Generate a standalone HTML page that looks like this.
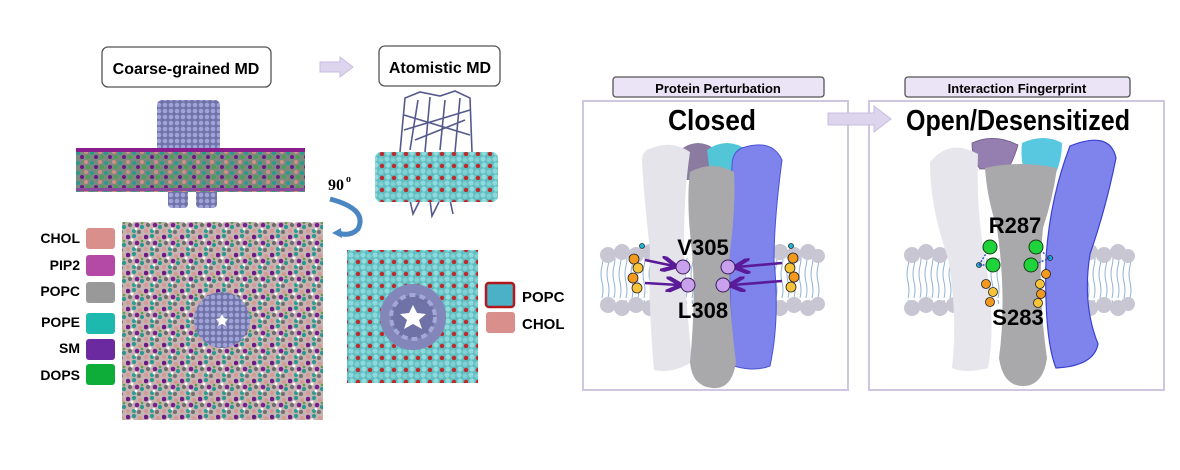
<!DOCTYPE html>
<html><head><meta charset="utf-8"><style>
html,body{margin:0;padding:0;background:#fff;}
svg{display:block;font-family:"Liberation Sans",Arial,sans-serif;}
</style></head><body>
<svg width="1180" height="470" viewBox="0 0 1180 470" xmlns="http://www.w3.org/2000/svg">
<defs>
<pattern id="cg" width="18" height="18" patternUnits="userSpaceOnUse">
<rect width="18" height="18" fill="#c7b3b1"/>
<circle cx="2" cy="3" r="2.3" fill="#6a1a85"/><circle cx="8" cy="2" r="2.1" fill="#2a9990"/>
<circle cx="14" cy="4" r="2" fill="#d59a94"/><circle cx="4" cy="9" r="2.1" fill="#6d6d6d"/>
<circle cx="11" cy="9" r="2.3" fill="#7a1f8f"/><circle cx="16" cy="11" r="2.1" fill="#2a9990"/>
<circle cx="2" cy="15" r="2" fill="#d59a94"/><circle cx="8" cy="15" r="2.1" fill="#2d9e8f"/>
<circle cx="13" cy="16" r="2" fill="#707070"/><circle cx="6" cy="6" r="1.5" fill="#fff"/>
<circle cx="16" cy="7" r="1.3" fill="#58a04a"/><circle cx="10" cy="13" r="1.4" fill="#fff"/>
</pattern>
<pattern id="cgs" width="14" height="10" patternUnits="userSpaceOnUse">
<rect width="14" height="10" fill="#7c8a7e"/>
<circle cx="2" cy="2" r="2" fill="#d18f88"/><circle cx="8" cy="3" r="2" fill="#2a9990"/>
<circle cx="12" cy="7" r="2" fill="#6a1a85"/><circle cx="4" cy="7" r="2" fill="#4c9c5a"/>
</pattern>
<pattern id="at" width="12" height="12" patternUnits="userSpaceOnUse">
<rect width="12" height="12" fill="#5fbcbf"/>
<circle cx="3" cy="3" r="2.6" fill="#8ed9db"/><circle cx="9" cy="4" r="2.6" fill="#7fd0d3"/>
<circle cx="4" cy="9" r="2.6" fill="#92dcde"/><circle cx="10" cy="10" r="2.2" fill="#c0282a"/>
</pattern>
<pattern id="prot" width="6" height="6" patternUnits="userSpaceOnUse">
<rect width="6" height="6" fill="#6f73a8"/><circle cx="3" cy="3" r="2.3" fill="#9fa3d8"/>
</pattern>
<pattern id="tails" width="6" height="50" patternUnits="userSpaceOnUse">
<path d="M2 0 q2 8 0 16 q-2 8 0 16 q2 8 0 16" stroke="#8fb2d6" stroke-width="1" fill="none"/>
</pattern>
<marker id="ah" markerWidth="6" markerHeight="6" refX="5" refY="3" orient="auto"><path d="M0 0 L6 3 L0 6" fill="none" stroke="#5a1a9a" stroke-width="1.6"/></marker>
</defs>

<!-- LEFT -->
<rect x="102" y="47" width="169" height="40" rx="6" fill="#fff" stroke="#555" stroke-width="1.3"/>
<text x="186" y="74" font-size="16" font-weight="bold" text-anchor="middle">Coarse-grained MD</text>
<path d="M320 62 h20 v-5 l13 10 l-13 10 v-5 h-20z" fill="#ddd4ee" stroke="#c8bde0"/>
<rect x="379" y="46" width="121" height="40" rx="6" fill="#fff" stroke="#555" stroke-width="1.3"/>
<text x="440" y="73" font-size="16" font-weight="bold" text-anchor="middle">Atomistic MD</text>

<!-- CG side -->
<rect x="157" y="100" width="63" height="52" rx="5" fill="url(#prot)"/>
<rect x="168" y="185" width="20" height="23" rx="4" fill="url(#prot)"/>
<rect x="196" y="185" width="21" height="23" rx="4" fill="url(#prot)"/>
<rect x="76" y="148" width="229" height="44" fill="url(#cgs)"/>
<rect x="76" y="148" width="229" height="4" fill="#8a1d8c"/>
<rect x="76" y="188" width="229" height="3" fill="#8a4c9c"/>

<!-- AT side -->
<g stroke="#555a8c" stroke-width="1.6" fill="none">
<path d="M400 152 L405 98 L420 92 L440 96 L455 91 L470 98 L472 152"/>
<path d="M410 150 L418 100 M425 152 L430 97 M440 150 L445 100 M455 152 L460 98 M404 130 L470 110 M404 115 L470 135 M415 140 L465 120"/>
<path d="M410 200 l3 14 l6 -12 M430 200 l2 16 l7 -14 M450 200 l3 14"/>
</g>
<rect x="375" y="152" width="123" height="50" rx="6" fill="url(#at)"/>

<text x="328" y="190" font-family="Liberation Serif,serif" font-size="16" font-weight="bold">90</text>
<text x="346" y="182" font-family="Liberation Serif,serif" font-size="10" font-weight="bold">o</text>
<path d="M330 199 q38 10 28 30 q-8 8 -20 4" fill="none" stroke="#4a86c2" stroke-width="5"/>
<path d="M341 228 l-9 5 l10 5z" fill="#4a86c2"/>

<!-- legend CG -->
<g font-size="14" font-weight="bold" text-anchor="end">
<text x="80" y="243">CHOL</text><text x="80" y="270">PIP2</text><text x="80" y="296">POPC</text>
<text x="80" y="327">POPE</text><text x="80" y="353">SM</text><text x="80" y="380">DOPS</text>
</g>
<rect x="86" y="228" width="29" height="21" rx="3" fill="#d9908c"/>
<rect x="86" y="255" width="29" height="21" rx="3" fill="#b44aa5"/>
<rect x="86" y="282" width="29" height="21" rx="3" fill="#999"/>
<rect x="86" y="313" width="29" height="21" rx="3" fill="#1db9af"/>
<rect x="86" y="339" width="29" height="21" rx="3" fill="#6c2aa0"/>
<rect x="86" y="364" width="29" height="21" rx="3" fill="#0ead3a"/>

<rect x="122" y="222" width="201" height="198" fill="url(#cg)"/>
<circle cx="222" cy="320" r="28" fill="url(#prot)"/>
<path d="M222 314 l2 4 l4 1 l-3 3 l1 4 l-4 -2 l-4 2 l1 -4 l-3 -3 l4 -1z" fill="#fff"/>

<!-- AT top -->
<rect x="347" y="250" width="131" height="133" fill="url(#at)"/>
<circle cx="413" cy="317" r="33" fill="#8286b8"/>
<circle cx="413" cy="317" r="22" fill="#6e72a6" stroke="#a4a8d8" stroke-width="4" stroke-dasharray="6 4"/>
<path d="M413 305 l4 8 l9 1 l-7 6 l3 9 l-9 -5 l-9 5 l3 -9 l-7 -6 l9 -1z" fill="#fff"/>
<rect x="486" y="283" width="28" height="24" rx="3" fill="#4ab1c7" stroke="#b0181c" stroke-width="2.5"/>
<rect x="486" y="312" width="29" height="21" rx="3" fill="#d9908c"/>
<text x="522" y="302" font-size="15" font-weight="bold">POPC</text>
<text x="522" y="329" font-size="15" font-weight="bold">CHOL</text>

<!-- RIGHT PANEL 1 -->
<rect x="613" y="77" width="211" height="20" rx="3" fill="#ebe3f6" stroke="#555" stroke-width="1.3"/>
<text x="718" y="93" font-size="13" font-weight="bold" text-anchor="middle">Protein Perturbation</text>
<rect x="583" y="101" width="265" height="289" fill="#fff" stroke="#cfc6e2" stroke-width="2"/>
<text x="712" y="130" font-size="29" font-weight="bold" text-anchor="middle" textLength="88" lengthAdjust="spacingAndGlyphs">Closed</text>

<!-- membrane closed -->
<rect x="600" y="258" width="222" height="46" fill="url(#tails)"/>
<g fill="#c8c6d3">
<circle cx="608" cy="255" r="8"/><circle cx="622" cy="252" r="8"/><circle cx="636" cy="255" r="8"/><circle cx="650" cy="252" r="8"/>
<circle cx="780" cy="252" r="8"/><circle cx="794" cy="255" r="8"/><circle cx="808" cy="252" r="8"/><circle cx="818" cy="256" r="7"/>
<circle cx="608" cy="305" r="8"/><circle cx="622" cy="308" r="8"/><circle cx="636" cy="305" r="8"/><circle cx="650" cy="308" r="8"/>
<circle cx="780" cy="308" r="8"/><circle cx="794" cy="305" r="8"/><circle cx="808" cy="308" r="8"/><circle cx="818" cy="304" r="7"/>
</g>
<path d="M680 150 q18 -14 36 0 l-2 30 h-32z" fill="#8b7ba0"/>
<path d="M707 150 q20 -14 40 0 l-4 30 h-32z" fill="#52c6d6"/>
<path d="M652 148 q20 -8 38 4 q-6 40 -6 90 q0 40 8 120 q-20 12 -38 8 q-6 -70 -4 -120 q-6 -50 -8 -90 q0 -10 10 -12z" fill="#e4e4ea"/>
<path d="M742 148 q30 -10 40 12 q-8 60 -8 100 q6 60 -4 106 q-16 6 -36 0 q-8 -100 -2 -200 q0 -14 10 -18z" fill="#7e84ec" stroke="#4a52d6" stroke-width="1"/>
<path d="M690 172 q22 -12 44 0 q2 30 -4 80 q-2 50 6 110 q-4 28 -24 26 q-20 -2 -22 -26 q6 -60 2 -110 q-6 -50 -2 -80z" fill="#a9a9ab"/>
<text x="703" y="255" font-size="22" font-weight="bold" text-anchor="middle">V305</text>
<text x="703" y="318" font-size="22" font-weight="bold" text-anchor="middle">L308</text>
<g stroke="#5a1a9a" stroke-width="2.6" marker-end="url(#ah)">
<line x1="645" y1="260" x2="674" y2="266"/><line x1="645" y1="283" x2="679" y2="285"/>
<line x1="782" y1="263" x2="737" y2="267"/><line x1="782" y1="281" x2="732" y2="285"/>
</g>
<g fill="#c9a0ec" stroke="#3a1a5a" stroke-width="1">
<circle cx="683" cy="267" r="7"/><circle cx="728" cy="267" r="7"/><circle cx="688" cy="285" r="7"/><circle cx="723" cy="285" r="7"/>
</g>
<g stroke="#222" stroke-width="0.8">
<circle cx="642" cy="246" r="2.5" fill="#19b8d8"/>
<circle cx="634" cy="259" r="5" fill="#f39a1e"/><circle cx="638" cy="268" r="5" fill="#f7c33a"/><circle cx="633" cy="278" r="5" fill="#f39a1e"/><circle cx="637" cy="288" r="5" fill="#f7c33a"/>
<circle cx="791" cy="246" r="2.5" fill="#19b8d8"/>
<circle cx="793" cy="258" r="5" fill="#f39a1e"/><circle cx="790" cy="268" r="5" fill="#f7c33a"/><circle cx="794" cy="277" r="5" fill="#f39a1e"/><circle cx="791" cy="287" r="5" fill="#f7c33a"/>
</g>

<!-- RIGHT PANEL 2 -->
<rect x="905" y="77" width="225" height="20" rx="3" fill="#ebe3f6" stroke="#555" stroke-width="1.3"/>
<text x="1017" y="93" font-size="13" font-weight="bold" text-anchor="middle">Interaction Fingerprint</text>
<rect x="869" y="101" width="295" height="289" fill="#fff" stroke="#cfc6e2" stroke-width="2"/>
<text x="1018" y="130" font-size="29" font-weight="bold" text-anchor="middle" textLength="224" lengthAdjust="spacingAndGlyphs">Open/Desensitized</text>

<path d="M828 113 h46 v-7 l17 13 l-17 13 v-7 h-46z" fill="#ddd4ee" stroke="#c8bde0"/>

<rect x="905" y="258" width="228" height="46" fill="url(#tails)"/>
<g fill="#c8c6d3">
<circle cx="912" cy="255" r="8"/><circle cx="926" cy="252" r="8"/><circle cx="940" cy="255" r="8"/><circle cx="954" cy="252" r="8"/>
<circle cx="1090" cy="252" r="8"/><circle cx="1104" cy="255" r="8"/><circle cx="1118" cy="252" r="8"/><circle cx="1128" cy="256" r="7"/>
<circle cx="912" cy="308" r="8"/><circle cx="926" cy="305" r="8"/><circle cx="940" cy="308" r="8"/><circle cx="954" cy="305" r="8"/>
<circle cx="1090" cy="308" r="8"/><circle cx="1104" cy="305" r="8"/><circle cx="1118" cy="308" r="8"/><circle cx="1128" cy="304" r="7"/>
</g>
<path d="M972 143 q22 -10 46 2 q-4 14 -10 24 h-28 q-8 -10 -8 -26z" fill="#957eb0" stroke="#6b5a88" stroke-width="0.8"/>
<path d="M1022 143 q22 -10 40 0 q0 16 -6 30 h-30 q-6 -10 -4 -30z" fill="#58c8e0"/>
<path d="M930 162 q20 -24 48 -8 q-2 60 8 110 q10 60 2 104 q-22 6 -36 0 q6 -50 -4 -110 q-18 -50 -18 -96z" fill="#e6e6ec"/>
<path d="M1070 146 q40 -16 46 12 q-10 50 -26 96 q-8 50 8 90 q-4 22 -42 24 q-12 -30 -10 -110 q4 -60 24 -112z" fill="#7e84ec" stroke="#3a42d0" stroke-width="1.2"/>
<path d="M985 168 q36 -8 72 0 q-4 30 -14 60 q-6 60 4 130 q-4 28 -24 28 q-20 0 -24 -28 q8 -60 -2 -130 q-10 -30 -12 -60z" fill="#a9a9ab"/>
<text x="1015" y="233" font-size="22" font-weight="bold" text-anchor="middle">R287</text>
<text x="1018" y="325" font-size="22" font-weight="bold" text-anchor="middle">S283</text>
<g stroke="#222" stroke-width="0.8">
<circle cx="986" cy="284" r="4.5" fill="#f39a1e"/><circle cx="993" cy="292" r="4.5" fill="#f7c33a"/><circle cx="990" cy="302" r="4.5" fill="#f39a1e"/>
<circle cx="1040" cy="284" r="4.5" fill="#f7c33a"/><circle cx="1046" cy="274" r="4.5" fill="#f39a1e"/><circle cx="1041" cy="294" r="4.5" fill="#f39a1e"/><circle cx="1038" cy="303" r="4.5" fill="#f7c33a"/>
<circle cx="979" cy="265" r="2.5" fill="#19b8d8"/><circle cx="1050" cy="258" r="2.5" fill="#19b8d8"/>
</g>
<g stroke="#2a50c8" stroke-width="1.4" stroke-dasharray="2 1.5">
<line x1="979" y1="265" x2="990" y2="247"/><line x1="979" y1="265" x2="993" y2="265"/>
<line x1="1050" y1="258" x2="1036" y2="247"/><line x1="1050" y1="258" x2="1033" y2="265"/>
</g>
<g fill="#1fd43a" stroke="#1a3a1a" stroke-width="1">
<circle cx="990" cy="247" r="7"/><circle cx="1036" cy="247" r="7"/><circle cx="993" cy="265" r="7"/><circle cx="1031" cy="265" r="7"/>
</g>
</svg>
</body></html>
